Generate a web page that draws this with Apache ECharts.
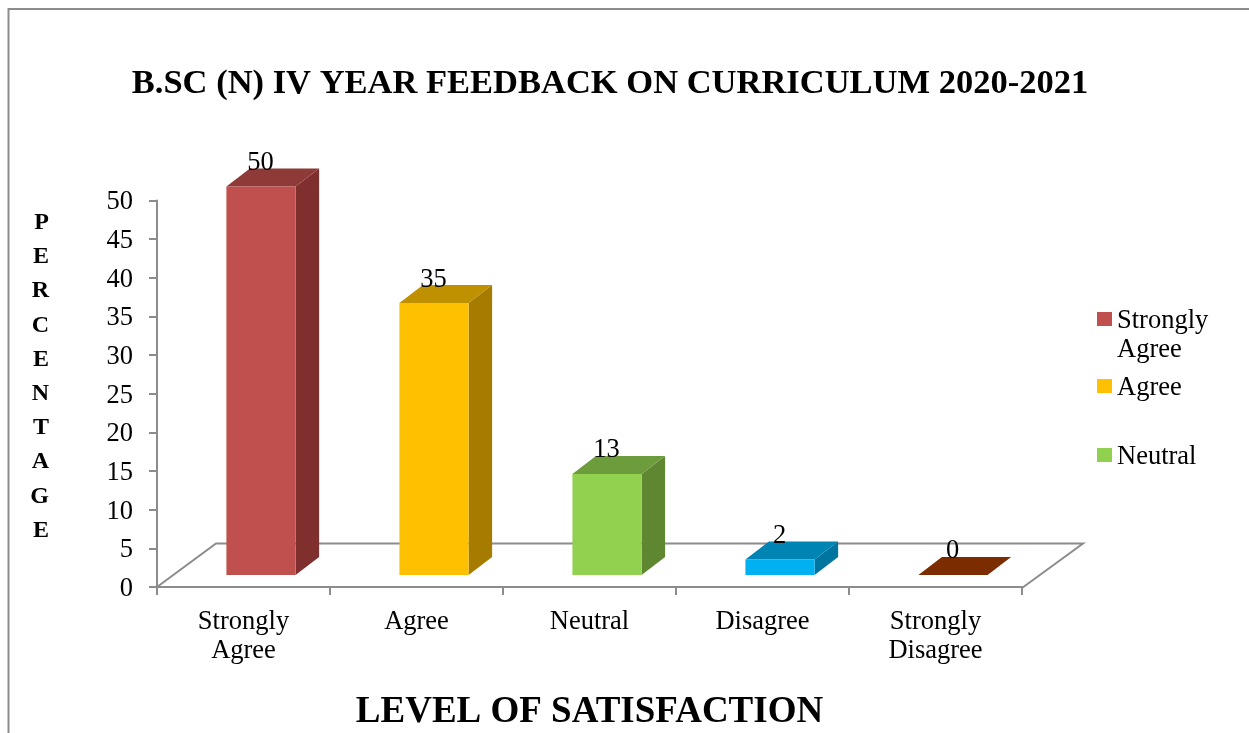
<!DOCTYPE html>
<html><head><meta charset="utf-8">
<script src="https://cdn.jsdelivr.net/npm/echarts@6/dist/echarts.min.js"></script>
<style>html,body{margin:0;padding:0;background:#fff}#c{width:1249px;height:733px}</style>
</head><body><div id="c"></div>
<script>
const titleText = 'B.SC (N) IV YEAR FEEDBACK ON CURRICULUM 2020-2021';
const xName = 'LEVEL OF SATISFACTION';
const yName = 'PERCENTAGE';
const categories = ['Strongly Agree','Agree','Neutral','Disagree','Strongly Disagree'];
const values = [50,35,13,2,0];
const legendItems = ['Strongly Agree','Agree','Neutral'];
const yTicks = [0,5,10,15,20,25,30,35,40,45,50];
const frontColors = ['#C0504D','#FFC000','#92D050','#00B0F0','#7B2C00'];
const sideColors  = ['#7F302E','#A67C00','#5F8732','#0075A0','#7B2C00'];
const topColors   = ['#8E3A38','#BF9000','#6D9C3C','#0084B4','#7B2C00'];

const FONT = '"Liberation Serif","Times New Roman",serif';
const GREY = '#8C8C8C';
const DX = 23.5, DY = 18, LIFT = 12, SHIFT = 17.5, STRETCH = 1.005;

function barRenderer(i){
  return function(params, api){
    const v = api.value(1);
    const c = api.coord([api.value(0), v]);
    const c0 = api.coord([api.value(0), 0]);
    const w = api.size([1,0])[0] * 0.4;
    const l = c[0] + SHIFT - w/2, r = l + w;
    const b = c0[1] - LIFT, t = b - (c0[1]-c[1]) * STRETCH;
    const children = [
      {type:'polygon',shape:{points:[[r,b],[r+DX,b-DY],[r+DX,t-DY],[r,t]]},style:{fill:sideColors[i]}},
      {type:'polygon',shape:{points:[[l,t],[l+DX,t-DY],[r+DX,t-DY],[r,t]]},style:{fill:topColors[i]}},
      {type:'rect',shape:{x:l,y:t,width:w,height:b-t},style:{fill:frontColors[i]}},
      {type:'text',style:{text:String(v),x:l+w/2-0.5,y:t-DY-5.5,align:'center',verticalAlign:'middle',
        fontFamily:FONT,fontSize:26.5,fill:'#000'},z2:10}
    ];
    return {type:'group',children};
  };
}
function floorRenderer(params, api){
  const s = params.coordSys;
  const y0 = api.coord([categories[0],0])[1];
  const x0 = s.x, x1 = s.x + s.width;
  return {type:'polyline',shape:{points:[[x0,y0],[x0+59,y0-43.5],[x1+61,y0-43.5],[x1,y0+1]]},
    style:{fill:'none',stroke:GREY,lineWidth:2}};
}
const series = [{type:'custom',name:'floor',silent:true,z:1,renderItem:floorRenderer,
  encode:{x:0,y:1},data:[[categories[0],0]]}];
categories.forEach((n,i)=>series.push({type:'custom',name:n,z:2,silent:true,renderItem:barRenderer(i),
  encode:{x:0,y:1},itemStyle:{color:frontColors[i]},data:[[n,values[i]]]}));

const legendTops = [273.5,369.5,438.5];
const chart = echarts.init(document.getElementById('c'),null,{renderer:'canvas'});
chart.setOption({
  animation:false,
  backgroundColor:'#fff',
  title:{text:titleText,left:605,top:62,textAlign:'center',
    textStyle:{fontFamily:FONT,fontWeight:'bold',fontSize:34.5,color:'#000'}},
  grid:{left:157,top:200.5,width:865,height:386.5,outerBoundsMode:'none'},
  xAxis:{type:'category',data:categories,boundaryGap:true,
    name:xName,nameLocation:'middle',nameGap:107,
    nameTextStyle:{fontFamily:FONT,fontWeight:'bold',fontSize:37,color:'#000'},
    axisLine:{lineStyle:{color:GREY,width:2}},
    axisTick:{show:true,alignWithLabel:false,length:8,lineStyle:{color:GREY,width:2}},
    axisLabel:{interval:0,margin:21,fontFamily:FONT,fontSize:26.5,color:'#000',lineHeight:29,
      formatter:v=>v.replace(' ','\n')}},
  yAxis:{type:'value',min:0,max:50,interval:5,
    name:yName.split('').join('\n')+'\n ',nameLocation:'middle',nameRotate:0,nameGap:108,
    nameTextStyle:{fontFamily:FONT,fontWeight:'bold',fontSize:24,color:'#000',lineHeight:34.2},
    axisLine:{show:true,lineStyle:{color:GREY,width:2}},
    axisTick:{show:true,length:8,lineStyle:{color:GREY,width:2}},
    splitLine:{show:false},
    axisLabel:{margin:24,color:'#000',formatter:v=>'{a|'+v+'}',
      rich:{a:{fontFamily:FONT,fontSize:26.5,color:'#000',padding:[4,0,0,0]}},
      customValues:yTicks}},
  legend:legendItems.map((n,i)=>({
    data:[{name:n,icon:'rect'}],left:1097,top:legendTops[i],orient:'vertical',padding:0,
    itemWidth:15,itemHeight:14,itemGap:6,selectedMode:false,
    formatter:v=>(v.includes(' ')?['', ...v.split(' ')]:[v]).map(s=>'{a|'+s+'}').join('\n'),
    textStyle:{rich:{a:{fontFamily:FONT,fontSize:26.5,color:'#000',lineHeight:29,height:29,padding:[4,0,0,0]}}}
  })),
  graphic:[{type:'polyline',silent:true,z:0,shape:{points:[[8.5,733],[8.5,9],[1249,9]]},
    style:{fill:'none',stroke:GREY,lineWidth:2}}],
  series
});
</script></body></html>
